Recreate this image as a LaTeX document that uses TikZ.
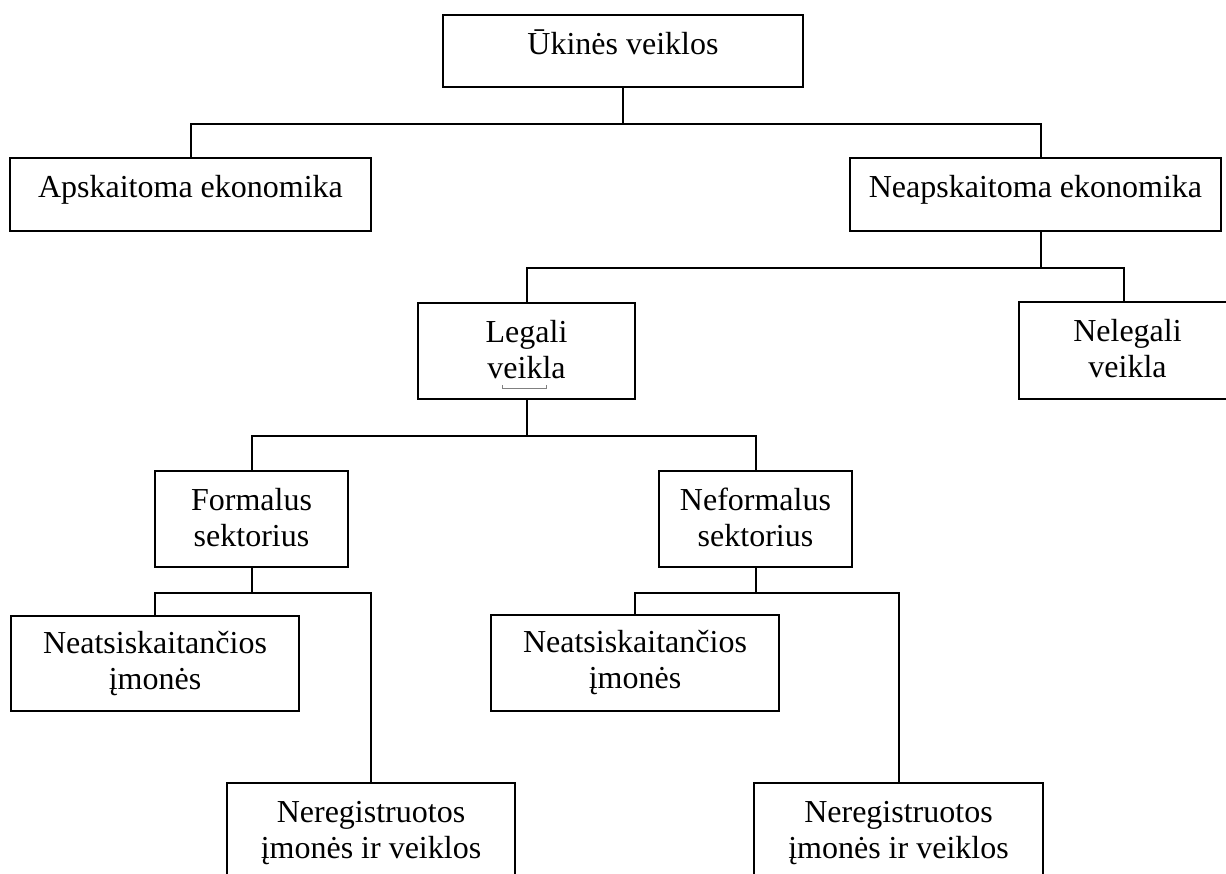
\documentclass[tikz,border=0pt]{standalone}
\usepackage{fontspec}
\setmainfont{Liberation Serif}
\usetikzlibrary{positioning}

\tikzset{
  box/.style={draw=black, line width=1pt, inner sep=0pt, anchor=north west},
  lbl/.style={anchor=north, inner sep=0pt, align=center, font=\fontsize{16}{18.4}\selectfont},
  conn/.style={draw=black, line width=1pt}
}

\begin{document}
\begin{tikzpicture}[x=0.5pt, y=-0.5pt]
   \useasboundingbox (0,0) rectangle (1226,873);
   \clip (0,0) rectangle (1226,873);

   % boxes
   \node[box, minimum width=180pt, minimum height=36pt] (uk) at (442,14) {};
   \node[box, minimum width=180.5pt, minimum height=36.5pt] (apsk) at (9,157) {};
   \node[box, minimum width=185.5pt, minimum height=36.5pt] (neapsk) at (849,157) {};
   \node[box, minimum width=108.5pt, minimum height=48pt] (legal) at (417,302) {};
   \node[box, minimum width=108.5pt, minimum height=48.5pt] (nelegal) at (1018,301) {};
   \node[box, minimum width=96.5pt, minimum height=48pt] (formal) at (154,470) {};
   \node[box, minimum width=96.5pt, minimum height=48pt] (neformal) at (658,470) {};
   \node[box, minimum width=144pt, minimum height=47.5pt] (neats1) at (10,615) {};
   \node[box, minimum width=144pt, minimum height=48pt] (neats2) at (490,614) {};
   \node[box, minimum width=144pt, minimum height=48pt] (nereg1) at (226,782) {};
   \node[box, minimum width=144.5pt, minimum height=48pt] (nereg2) at (753,782) {};

   % texts
   \node[lbl] (uk-t) at ([yshift=-7pt]uk.north) {\strut Ūkinės veiklos};
   \node[lbl] (apsk-t) at ([yshift=-7pt]apsk.north) {\strut Apskaitoma ekonomika};
   \node[lbl] (neapsk-t) at ([yshift=-7pt]neapsk.north) {\strut Neapskaitoma ekonomika};
   \node[lbl] (legal-t) at ([yshift=-7pt]legal.north) {\strut Legali\\veikla};
   \node[lbl] (nelegal-t) at ([yshift=-7pt]nelegal.north) {\strut Nelegali\\veikla};
   \node[lbl] (formal-t) at ([yshift=-7pt]formal.north) {\strut Formalus\\sektorius};
   \node[lbl] (neformal-t) at ([yshift=-7pt]neformal.north) {\strut Neformalus\\sektorius};
   \node[lbl] (neats1-t) at ([yshift=-6pt]neats1.north) {\strut Neatsiskaitančios\\įmonės};
   \node[lbl] (neats2-t) at ([yshift=-6pt]neats2.north) {\strut Neatsiskaitančios\\įmonės};
   \node[lbl] (nereg1-t) at ([yshift=-7pt]nereg1.north) {\strut Neregistruotos\\įmonės ir veiklos};
   \node[lbl] (nereg2-t) at ([yshift=-7pt]nereg2.north) {\strut Neregistruotos\\įmonės ir veiklos};

   % connectors
   \draw[conn] (uk.south) -- ++(0,36) coordinate (uksplit);
   \draw[conn] (apsk.north) |- (uksplit) -| ([xshift=2.75pt]neapsk.north);

   \draw[conn] ([xshift=2.75pt]neapsk.south) -- ++(0,36) coordinate (neasplit);
   \draw[conn] (legal.north) |- (neasplit) -| ([xshift=-1.75pt]nelegal.north);

   \draw[conn] (legal.south) -- ++(0,36) coordinate (legsplit);
   \draw[conn] (formal.north) |- (legsplit) -| (neformal.north);

   \draw[conn] (formal.south) -- ++(0,25) coordinate (fsplit);
   \draw[conn] (neats1.north) |- (fsplit) -| (nereg1.north);

   \draw[conn] (neformal.south) -- ++(0,25) coordinate (nfsplit);
   \draw[conn] (neats2.north) |- (nfsplit) -| (nereg2.north);

   % stray mark under the text
   \draw[gray, line width=0.4pt] (502,385) -- (502,388) -- (546,388) -- (546,385);
\end{tikzpicture}
\end{document}
